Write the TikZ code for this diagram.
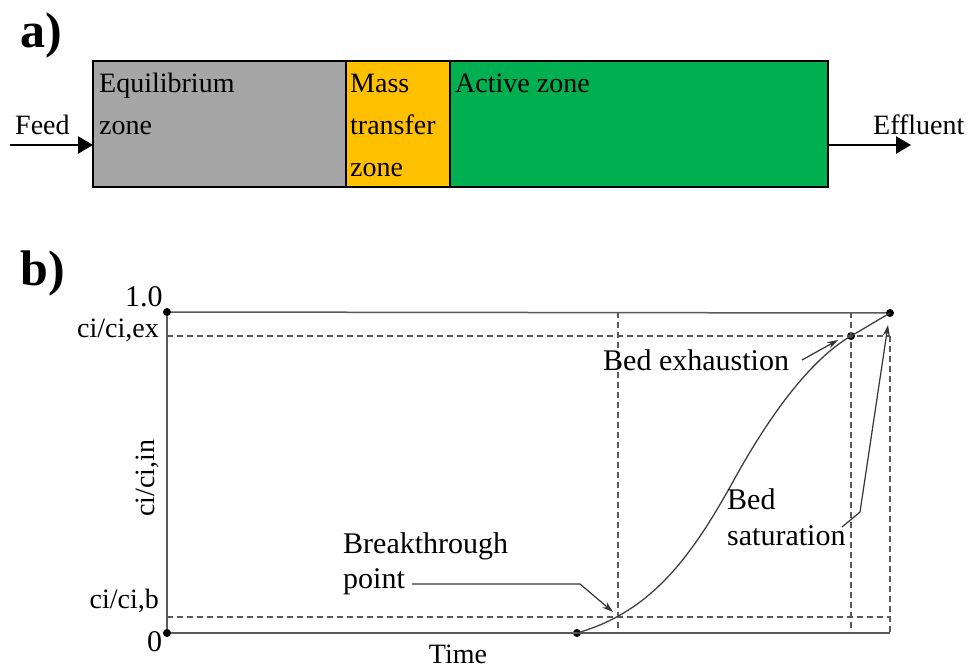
\documentclass[tikz,border=0pt]{standalone}
\usepackage{fontspec}
\setmainfont{Liberation Serif}
\usetikzlibrary{arrows.meta}

\definecolor{eqgray}{HTML}{A6A6A6}
\definecolor{mtorange}{HTML}{FFC000}
\definecolor{actgreen}{HTML}{00B050}

\begin{document}
\begin{tikzpicture}[x=1pt, y=-1pt,
    txt/.style={anchor=base west, inner sep=0pt, font=\fontsize{28}{28}\selectfont},
    lbl/.style={anchor=base west, inner sep=0pt, font=\fontsize{30}{30}\selectfont},
    tag/.style={anchor=base west, inner sep=0pt, font=\fontsize{50}{50}\selectfont\bfseries},
    zone/.style={draw=black, line width=2.5pt},
    flow/.style={line width=2.5pt, -{Triangle[length=15pt, width=17pt]}},
    frame/.style={draw=black!65, line width=1.5pt},
    guide/.style={draw=black!65, line width=1.3pt, dash pattern=on 6pt off 4pt},
    pointer/.style={draw=black!80, line width=1.2pt, -{Stealth[length=11pt, width=7pt]}},
    dot/.style={circle, fill=black, inner sep=0pt, minimum size=8pt}]
  \useasboundingbox (0,0) rectangle (969,671);

  % a) column
  \node [tag] (ta) at (20,48) {a)};
  \fill [eqgray] (93,61) rectangle (346,187);
  \fill [mtorange] (346,61) rectangle (450,187);
  \fill [actgreen] (450,61) rectangle (828,187);
  \draw [zone] (93,61) rectangle (828,187);
  \draw [zone] (346,61) -- (346,187);
  \draw [zone] (450,61) -- (450,187);
  \node [txt] (eq1) at (99,93) {Equilibrium};
  \node [txt] (eq2) at (99,135) {zone};
  \node [txt] (mt1) at (350,93) {Mass};
  \node [txt] (mt2) at (350,135) {transfer};
  \node [txt] (mt3) at (350,177) {zone};
  \node [txt] (ac) at (455,93) {Active zone};
  \node [txt] (feed) at (15,135) {Feed};
  \node [txt] (eff) at (873,135) {Effluent};
  \coordinate (fin0) at (10,145);
  \coordinate (fin1) at (93,145);
  \coordinate (fout0) at (828,145);
  \coordinate (fout1) at (911,145);
  \draw [flow] (fin0) -- (fin1);
  \draw [flow] (fout0) -- (fout1);

  % b) breakthrough curve
  \node [tag] (tb) at (20,285) {b)};
  \node [dot] (o) at (167,633) {};
  \node [dot] (y1) at (167,312) {};
  \node [dot] (s) at (577,633) {};
  \node [dot] (ex) at (851,336) {};
  \node [dot] (sat) at (890,313) {};
  \coordinate (bk) at (618,617);
  \draw [frame] (y1) -- (o) -- (890,633);
  \draw [frame] (y1) -- (sat);
  \draw [guide] (167,336) -- (890,336);
  \draw [guide] (167,617) -- (890,617);
  \draw [guide] (618,312) -- (618,633);
  \draw [guide] (851,312) -- (851,633);
  \draw [guide] (890,336) -- (890,633);
  \draw [black!75, line width=1.3pt] (s.center) .. controls (650,612) and (690,560) .. (735,478)
    .. controls (770,415) and (810,360) .. (ex.center) .. controls (865,328) and (878,320) .. (sat.center);

  \node [lbl] (v1) at (125,306) {1.0};
  \node [txt, anchor=base east] (vex) at (159,337) {ci/ci,ex};
  \node [txt, anchor=base east] (vb) at (159,608) {ci/ci,b};
  \node [lbl] (v0) at (147,651) {0};
  \node [txt, anchor=base, rotate=90] (ylab) at (154,478) {ci/ci,in};
  \node [txt, anchor=base] (xlab) at (458,663) {Time};

  \node [lbl] (bp1) at (343,553) {Breakthrough};
  \node [lbl] (bp2) at (343,588) {point};
  \coordinate (bpa) at (412,584);
  \coordinate (bpb) at (580,584);
  \coordinate (bpc) at (613,612);
  \draw [pointer] (bpa) -- (bpb) -- (bpc);

  \node [lbl] (be) at (603,370) {Bed exhaustion};
  \coordinate (bea) at (802,360);
  \coordinate (beb) at (838,340);
  \draw [pointer] (bea) -- (beb);

  \node [lbl] (bs1) at (727,509) {Bed};
  \node [lbl] (bs2) at (727,545) {saturation};
  \coordinate (bsa) at (842,527);
  \coordinate (bsb) at (860,512);
  \coordinate (bsc) at (888,325);
  \draw [pointer] (bsa) -- (bsb) -- (bsc);
\end{tikzpicture}
\end{document}
